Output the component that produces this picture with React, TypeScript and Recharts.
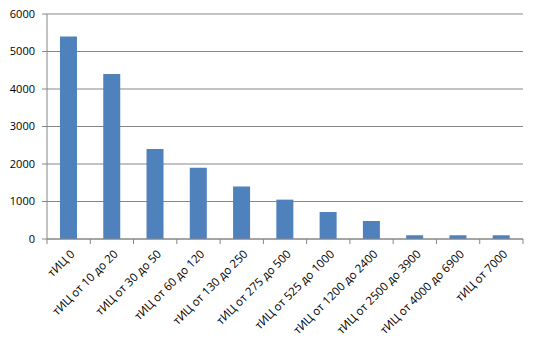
import React from 'react';
import { BarChart, Bar, XAxis, YAxis, CartesianGrid } from 'recharts';

const categories = [
  'тИЦ 0',
  'тИЦ от 10 до 20',
  'тИЦ от 30 до 50',
  'тИЦ от 60 до 120',
  'тИЦ от 130 до 250',
  'тИЦ от 275 до 500',
  'тИЦ от 525 до 1000',
  'тИЦ от 1200 до 2400',
  'тИЦ от 2500 до 3900',
  'тИЦ от 4000 до 6900',
  'тИЦ от 7000',
];
const values = [5400, 4400, 2400, 1900, 1400, 1050, 720, 480, 100, 100, 100];
const yTicks = [0, 1000, 2000, 3000, 4000, 5000, 6000];

const data = categories.map((name, i) => ({ name, value: values[i] }));

const W = 537;
const H = 343;
const LEFT = 47;
const RIGHT = 14;
const TOP = 14;
const XH = 104;
const AXIS = '#868686';
const FONT = '"Open Sans", sans-serif';
const halfBand = (W - LEFT - RIGHT) / categories.length / 2;

const XTick = (props: any) => {
  const { x, y, payload, index } = props;
  const isLast = index === categories.length - 1;
  const ax = x + 1;
  const ay = y + 2;
  return (
    <g>
      <line x1={x - halfBand} y1={y - 8} x2={x - halfBand} y2={y - 3} stroke={AXIS} />
      {isLast && <line x1={x + halfBand} y1={y - 8} x2={x + halfBand} y2={y - 3} stroke={AXIS} />}
      <text
        x={ax}
        y={ay}
        dy="0.71em"
        textAnchor="end"
        transform={`rotate(-45, ${ax}, ${ay})`}
        fontFamily={FONT}
        fontSize={11.5}
        fill="#000"
      >
        {payload.value}
      </text>
    </g>
  );
};

export default function App() {
  return (
    <div style={{ position: 'absolute', left: 0, top: 0, width: W, height: H, background: '#fff' }}>
      <BarChart
        width={W}
        height={H}
        data={data}
        margin={{ top: TOP, right: RIGHT, left: 0, bottom: 0 }}
        barCategoryGap="30%"
      >
        <CartesianGrid vertical={false} stroke={AXIS} strokeWidth={1} />
        <XAxis
          dataKey="name"
          interval={0}
          height={XH}
          axisLine={{ stroke: AXIS }}
          tickLine={false}
          tick={<XTick />}
        />
        <YAxis
          width={LEFT}
          domain={[0, 6000]}
          ticks={yTicks}
          interval={0}
          axisLine={{ stroke: AXIS }}
          tickLine={{ stroke: AXIS }}
          tickSize={5}
          tickMargin={7}
          tick={{ fill: '#000', fontSize: 11, fontFamily: FONT }}
        />
        <Bar dataKey="value" fill="#4F81BD" isAnimationActive={false} />
      </BarChart>
    </div>
  );
}
